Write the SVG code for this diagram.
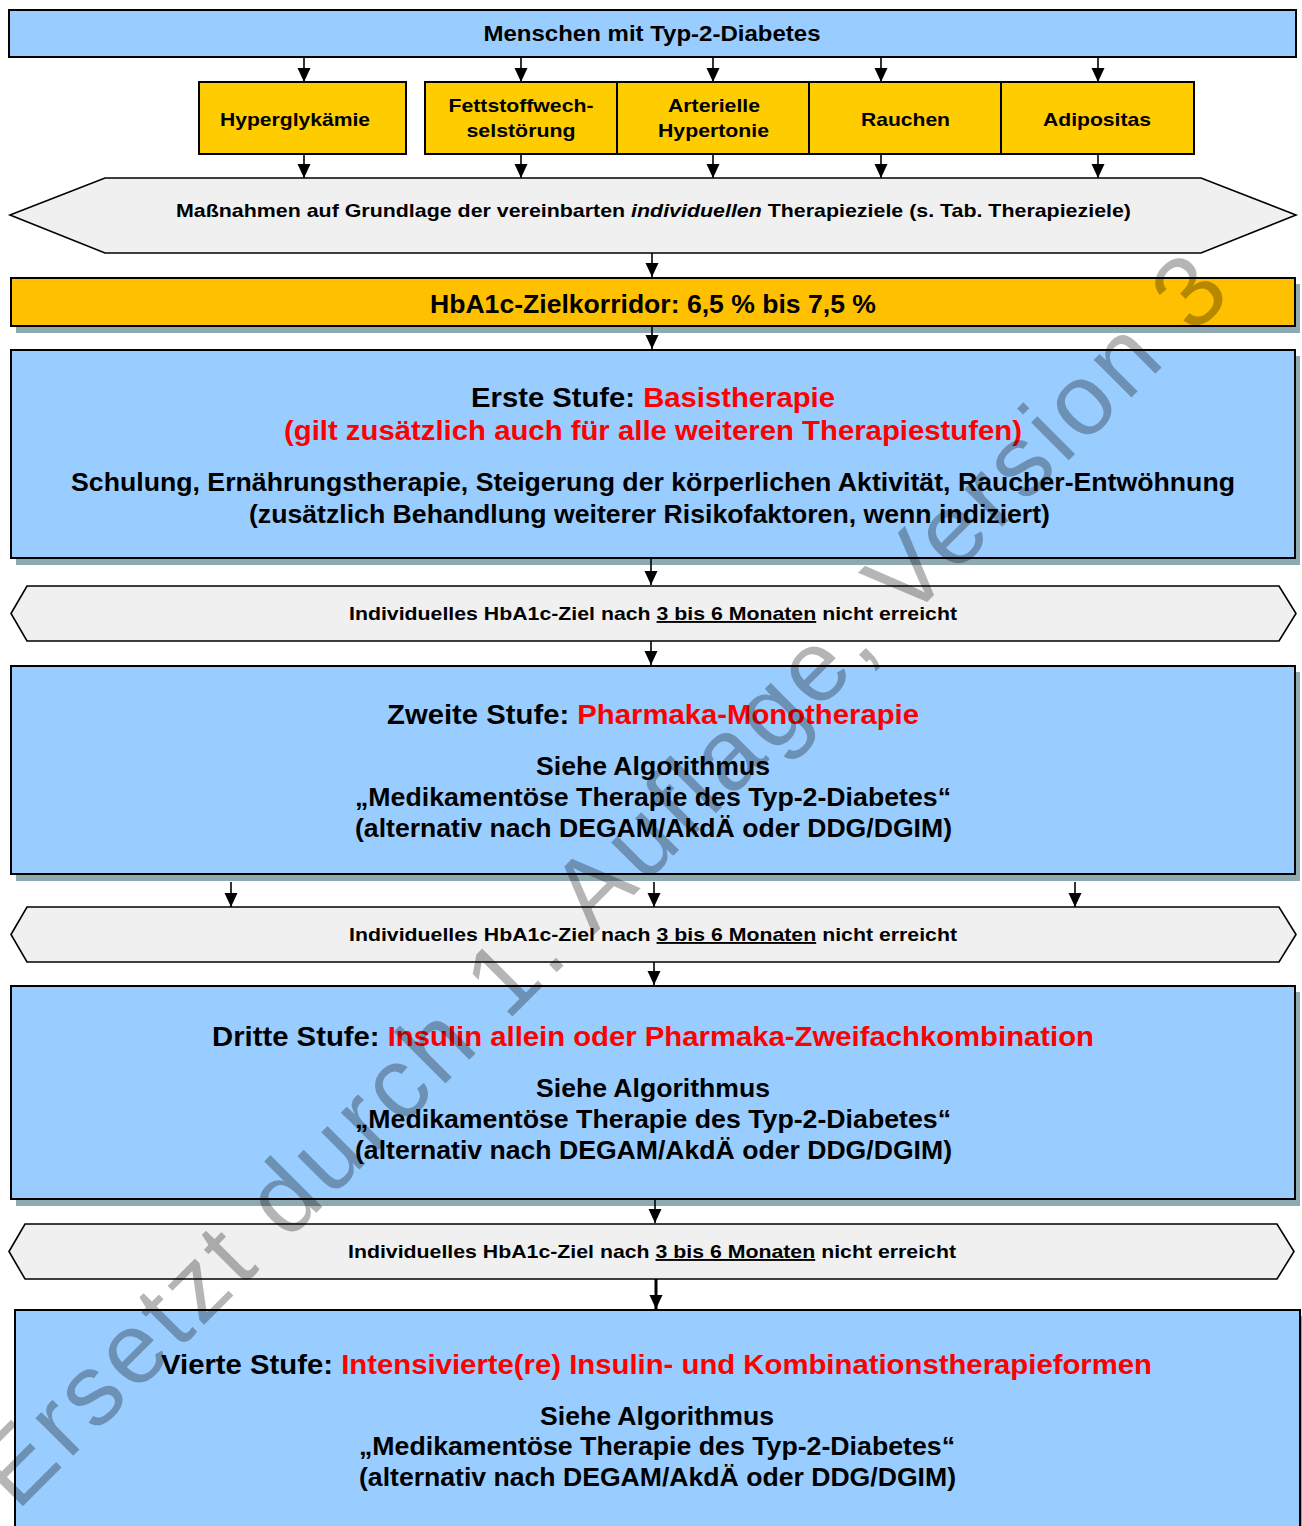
<svg xmlns="http://www.w3.org/2000/svg" width="1302" height="1526" viewBox="0 0 1302 1526">
<defs>
<style>
.t{font-family:"Liberation Sans",Arial,Helvetica,sans-serif;font-weight:bold;text-anchor:middle;fill:#000}
.r{fill:#FF0000}
.blue{fill:#99CCFF;stroke:#000;stroke-width:2}
.yel{fill:#FFCC00;stroke:#000;stroke-width:2}
.hb{fill:#FFC000;stroke:#000;stroke-width:2}
.hex{fill:#F0F0F0;stroke:#000;stroke-width:1.6}
.sh{fill:#8FA9B1}
.conn line{stroke:#000;stroke-width:1.6;marker-end:url(#ah)}
.wm{font-family:"Liberation Sans",Arial,sans-serif;font-size:101px;letter-spacing:5px;fill:#000;fill-opacity:0.29}
</style>
<marker id="ah" markerUnits="userSpaceOnUse" markerWidth="14" markerHeight="14" viewBox="0 0 14 14" refX="14" refY="7" orient="auto">
<path d="M0,0.5 L14,7 L0,13.5 z" fill="#000"/>
</marker>
</defs>
<rect width="1302" height="1526" fill="#fff"/>

<g id="top">
<rect class="blue" x="9" y="10" width="1287" height="47"/>
<text class="t" x="652" y="41" font-size="22" textLength="337" lengthAdjust="spacingAndGlyphs">Menschen mit Typ-2-Diabetes</text>
</g>

<g id="hyperglykaemie">
<rect class="yel" x="199" y="82" width="207" height="72"/>
<text class="t" x="295" y="126" font-size="19" textLength="150" lengthAdjust="spacingAndGlyphs">Hyperglykämie</text>
</g>
<g id="fettstoffwechsel">
<rect class="yel" x="425" y="82" width="192" height="72"/>
<text class="t" x="521" y="112" font-size="19" textLength="145" lengthAdjust="spacingAndGlyphs">Fettstoffwech-</text>
<text class="t" x="521" y="137" font-size="19" textLength="109" lengthAdjust="spacingAndGlyphs">selstörung</text>
</g>
<g id="hypertonie">
<rect class="yel" x="617" y="82" width="192" height="72"/>
<text class="t" x="714" y="112" font-size="19" textLength="92" lengthAdjust="spacingAndGlyphs">Arterielle</text>
<text class="t" x="713.5" y="137" font-size="19" textLength="111" lengthAdjust="spacingAndGlyphs">Hypertonie</text>
</g>
<g id="rauchen">
<rect class="yel" x="809" y="82" width="192" height="72"/>
<text class="t" x="905.5" y="126" font-size="19" textLength="89" lengthAdjust="spacingAndGlyphs">Rauchen</text>
</g>
<g id="adipositas">
<rect class="yel" x="1001" y="82" width="193" height="72"/>
<text class="t" x="1097" y="126" font-size="19" textLength="108" lengthAdjust="spacingAndGlyphs">Adipositas</text>
</g>

<g id="massnahmen">
<polygon class="hex" points="10,215 105,178 1201,178 1296,215 1201,253 105,253"/>
<text class="t" x="653.5" y="217" font-size="19" textLength="955" lengthAdjust="spacingAndGlyphs">Maßnahmen auf Grundlage der vereinbarten <tspan font-style="italic">individuellen</tspan> Therapieziele (s. Tab. Therapieziele)</text>
</g>

<g id="zielkorridor">
<rect class="sh" x="16" y="284" width="1284" height="49"/>
<rect class="hb" x="11" y="278" width="1284" height="48"/>
<text class="t" x="653" y="313" font-size="25" textLength="446" lengthAdjust="spacingAndGlyphs">HbA1c-Zielkorridor: 6,5 % bis 7,5 %</text>
</g>

<g id="stufe1">
<rect class="sh" x="16" y="356" width="1284" height="209"/>
<rect class="blue" x="11" y="350" width="1284" height="208"/>
<text class="t" x="653" y="407" font-size="27" textLength="364" lengthAdjust="spacingAndGlyphs">Erste Stufe: <tspan class="r">Basistherapie</tspan></text>
<text class="t r" x="653" y="440" font-size="27" textLength="738" lengthAdjust="spacingAndGlyphs">(gilt zusätzlich auch für alle weiteren Therapiestufen)</text>
<text class="t" x="653" y="491" font-size="25.5" textLength="1164" lengthAdjust="spacingAndGlyphs">Schulung, Ernährungstherapie, Steigerung der körperlichen Aktivität, Raucher-Entwöhnung</text>
<text class="t" x="649.5" y="523" font-size="25.5" textLength="801" lengthAdjust="spacingAndGlyphs">(zusätzlich Behandlung weiterer Risikofaktoren, wenn indiziert)</text>
</g>

<g id="ziel1">
<polygon class="hex" points="11,613.5 27,586 1279,586 1296,613.5 1279,641 27,641"/>
<text class="t" x="653" y="620" font-size="19" textLength="608" lengthAdjust="spacingAndGlyphs">Individuelles HbA1c-Ziel nach <tspan text-decoration="underline">3 bis 6 Monaten</tspan> nicht erreicht</text>
</g>

<g id="stufe2">
<rect class="sh" x="16" y="672" width="1284" height="209"/>
<rect class="blue" x="11" y="666" width="1284" height="208"/>
<text class="t" x="653" y="724" font-size="27" textLength="532" lengthAdjust="spacingAndGlyphs">Zweite Stufe: <tspan class="r">Pharmaka-Monotherapie</tspan></text>
<text class="t" x="653" y="775" font-size="25.5" textLength="234" lengthAdjust="spacingAndGlyphs">Siehe Algorithmus</text>
<text class="t" x="653" y="806" font-size="25.5" textLength="596" lengthAdjust="spacingAndGlyphs">„Medikamentöse Therapie des Typ-2-Diabetes“</text>
<text class="t" x="653.5" y="837" font-size="25.5" textLength="597" lengthAdjust="spacingAndGlyphs">(alternativ nach DEGAM/AkdÄ oder DDG/DGIM)</text>
</g>

<g id="ziel2">
<polygon class="hex" points="11,934.5 27,907 1279,907 1296,934.5 1279,962 27,962"/>
<text class="t" x="653" y="941" font-size="19" textLength="608" lengthAdjust="spacingAndGlyphs">Individuelles HbA1c-Ziel nach <tspan text-decoration="underline">3 bis 6 Monaten</tspan> nicht erreicht</text>
</g>

<g id="stufe3">
<rect class="sh" x="16" y="992" width="1284" height="214"/>
<rect class="blue" x="11" y="986" width="1284" height="213"/>
<text class="t" x="653" y="1046" font-size="27" textLength="882" lengthAdjust="spacingAndGlyphs">Dritte Stufe: <tspan class="r">Insulin allein oder Pharmaka-Zweifachkombination</tspan></text>
<text class="t" x="653" y="1097" font-size="25.5" textLength="234" lengthAdjust="spacingAndGlyphs">Siehe Algorithmus</text>
<text class="t" x="653" y="1128" font-size="25.5" textLength="596" lengthAdjust="spacingAndGlyphs">„Medikamentöse Therapie des Typ-2-Diabetes“</text>
<text class="t" x="653.5" y="1159" font-size="25.5" textLength="597" lengthAdjust="spacingAndGlyphs">(alternativ nach DEGAM/AkdÄ oder DDG/DGIM)</text>
</g>

<g id="ziel3">
<polygon class="hex" points="9,1251.5 25,1224 1277,1224 1294,1251.5 1277,1279 25,1279"/>
<text class="t" x="652" y="1258" font-size="19" textLength="608" lengthAdjust="spacingAndGlyphs">Individuelles HbA1c-Ziel nach <tspan text-decoration="underline">3 bis 6 Monaten</tspan> nicht erreicht</text>
</g>

<g id="stufe4">
<rect class="sh" x="20" y="1316" width="1285" height="240"/>
<rect class="blue" x="15" y="1310" width="1285" height="240"/>
<text class="t" x="656.5" y="1374" font-size="27" textLength="991" lengthAdjust="spacingAndGlyphs">Vierte Stufe: <tspan class="r">Intensivierte(re) Insulin- und Kombinationstherapieformen</tspan></text>
<text class="t" x="657" y="1425" font-size="25.5" textLength="234" lengthAdjust="spacingAndGlyphs">Siehe Algorithmus</text>
<text class="t" x="657" y="1455" font-size="25.5" textLength="596" lengthAdjust="spacingAndGlyphs">„Medikamentöse Therapie des Typ-2-Diabetes“</text>
<text class="t" x="657.5" y="1486" font-size="25.5" textLength="597" lengthAdjust="spacingAndGlyphs">(alternativ nach DEGAM/AkdÄ oder DDG/DGIM)</text>
</g>

<g id="connectors" class="conn">
<line x1="304" y1="57" x2="304" y2="82"/>
<line x1="521" y1="57" x2="521" y2="82"/>
<line x1="713" y1="57" x2="713" y2="82"/>
<line x1="881" y1="57" x2="881" y2="82"/>
<line x1="1098" y1="57" x2="1098" y2="82"/>
<line x1="304" y1="154" x2="304" y2="178"/>
<line x1="521" y1="154" x2="521" y2="178"/>
<line x1="713" y1="154" x2="713" y2="178"/>
<line x1="881" y1="154" x2="881" y2="178"/>
<line x1="1098" y1="154" x2="1098" y2="178"/>
<line x1="652" y1="253" x2="652" y2="277"/>
<line x1="652" y1="326" x2="652" y2="349"/>
<line x1="651" y1="558" x2="651" y2="585"/>
<line x1="651" y1="641" x2="651" y2="665"/>
<line x1="231" y1="882" x2="231" y2="907"/>
<line x1="654" y1="882" x2="654" y2="907"/>
<line x1="1075" y1="882" x2="1075" y2="907"/>
<line x1="654" y1="962" x2="654" y2="985"/>
<line x1="655" y1="1199" x2="655" y2="1223"/>
<line x1="656" y1="1279" x2="656" y2="1309" style="stroke-width:3"/>
</g>

<text class="wm" x="17" y="1512" transform="rotate(-45 17 1512)">Ersetzt durch 1. Auflage, Version 3</text>
</svg>
